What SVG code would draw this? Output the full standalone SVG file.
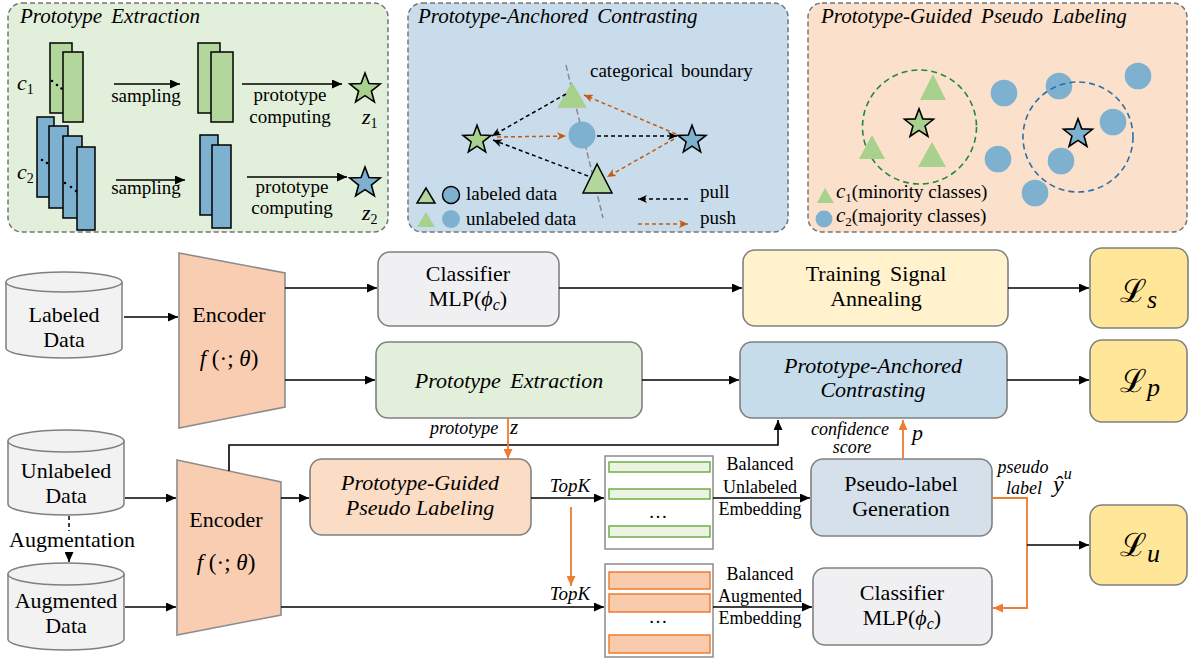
<svg xmlns="http://www.w3.org/2000/svg" width="1192" height="660" viewBox="0 0 1192 660">
<defs>
<style>
.panel{stroke:#767676;stroke-width:1.5;stroke-dasharray:5 3}
.box{stroke:#808080;stroke-width:1.6}
.ln{fill:none;stroke:#000;stroke-width:1.6}
.or{fill:none;stroke:#ed7d31;stroke-width:1.8}
.gr{fill:#b3d69d;stroke:#000;stroke-width:1.5}
.bl{fill:#7eb1cf;stroke:#000;stroke-width:1.5}
.gu{fill:#a9d18e}
.bu{fill:#7eb1cf}
.pull{fill:none;stroke:#000;stroke-width:1.5;stroke-dasharray:4 3}
.push{fill:none;stroke:#c55a11;stroke-width:1.5;stroke-dasharray:4 3}
.cyl{fill:#f2f2f2;stroke:#7f7f7f;stroke-width:1.5}
</style>
<marker id="ah" viewBox="0 0 10 9" refX="10" refY="4.5" markerWidth="10" markerHeight="9" markerUnits="userSpaceOnUse" orient="auto"><path d="M0,0L10,4.5L0,9z" fill="#000"/></marker>
<marker id="ao" viewBox="0 0 10 9" refX="10" refY="4.5" markerWidth="10" markerHeight="9" markerUnits="userSpaceOnUse" orient="auto"><path d="M0,0L10,4.5L0,9z" fill="#ed7d31"/></marker>
<marker id="vk" viewBox="0 0 9 8" refX="9" refY="4" markerWidth="9" markerHeight="8" markerUnits="userSpaceOnUse" orient="auto"><path d="M0,0L9,4L0,8L2.5,4z" fill="#000"/></marker>
<marker id="vo" viewBox="0 0 9 8" refX="9" refY="4" markerWidth="9" markerHeight="8" markerUnits="userSpaceOnUse" orient="auto"><path d="M0,0L9,4L0,8L2.5,4z" fill="#c55a11"/></marker>
<path id="star" d="M0,-16L3.94,-5.42L15.22,-4.94L6.37,2.07L9.4,12.94L0,6.7L-9.4,12.94L-6.37,2.07L-15.22,-4.94L-3.94,-5.42Z"/>
</defs>

<rect width="1192" height="660" fill="#fff"/>

<!-- Panel 1: Prototype Extraction -->
<g id="panel-prototype-extraction">
<rect class="panel" x="8" y="3" width="380" height="229" rx="14" fill="#e2efda"/>
<text font-family="Liberation Serif, serif" font-size="21" font-style="italic" word-spacing="4" x="20" y="23">Prototype Extraction</text>
<rect class="gr" x="50" y="43" width="22" height="70"/>
<rect class="gr" x="63" y="52" width="20" height="70"/>
<circle cx="52" cy="81" r="1.3"/><circle cx="57" cy="85" r="1.3"/><circle cx="61.5" cy="88.5" r="1.3"/>
<rect class="bl" x="37" y="117" width="17" height="80"/>
<rect class="bl" x="49" y="126" width="19" height="82"/>
<rect class="bl" x="63" y="136" width="19" height="82"/>
<rect class="bl" x="77" y="147" width="18" height="83"/>
<circle cx="42" cy="160" r="1.3"/><circle cx="47" cy="163" r="1.3"/>
<circle cx="65" cy="183" r="1.3"/><circle cx="71" cy="187" r="1.3"/><circle cx="76" cy="191" r="1.3"/>
<text font-family="Liberation Serif, serif" font-size="22" font-style="italic" x="17" y="90">c<tspan font-size="14" font-style="normal" dy="4">1</tspan></text>
<text font-family="Liberation Serif, serif" font-size="22" font-style="italic" x="17" y="179">c<tspan font-size="14" font-style="normal" dy="4">2</tspan></text>
<line class="ln" x1="114" y1="84" x2="180" y2="84" marker-end="url(#ah)"/>
<text font-family="Liberation Serif, serif" font-size="19" text-anchor="middle" x="146" y="102">sampling</text>
<rect class="gr" x="198" y="43" width="22" height="70"/>
<rect class="gr" x="211" y="52" width="22" height="70"/>
<line class="ln" x1="242" y1="84" x2="342" y2="84" marker-end="url(#ah)"/>
<text font-family="Liberation Serif, serif" font-size="19" text-anchor="middle" x="290" y="101">prototype</text>
<text font-family="Liberation Serif, serif" font-size="19" text-anchor="middle" x="290" y="123">computing</text>
<use href="#star" transform="translate(365,89)" fill="#a9d18e" stroke="#000" stroke-width="1.6"/>
<text font-family="Liberation Serif, serif" font-size="22" font-style="italic" x="362" y="124">z<tspan font-size="14" font-style="normal" dy="4">1</tspan></text>
<line class="ln" x1="116" y1="180" x2="185" y2="180" marker-end="url(#ah)"/>
<text font-family="Liberation Serif, serif" font-size="19" text-anchor="middle" x="146" y="194">sampling</text>
<rect class="bl" x="200" y="135" width="18" height="80"/>
<rect class="bl" x="212" y="145" width="19" height="83"/>
<line class="ln" x1="247" y1="177" x2="347" y2="177" marker-end="url(#ah)"/>
<text font-family="Liberation Serif, serif" font-size="19" text-anchor="middle" x="292" y="193">prototype</text>
<text font-family="Liberation Serif, serif" font-size="19" text-anchor="middle" x="292" y="214">computing</text>
<use href="#star" transform="translate(365,183)" fill="#7eb1cf" stroke="#000" stroke-width="1.6"/>
<text font-family="Liberation Serif, serif" font-size="22" font-style="italic" x="362" y="220">z<tspan font-size="14" font-style="normal" dy="4">2</tspan></text>
</g>

<!-- Panel 2: Prototype-Anchored Contrasting -->
<g id="panel-prototype-anchored-contrasting">
<rect class="panel" x="408" y="3" width="380" height="229" rx="14" fill="#c9dceb"/>
<text font-family="Liberation Serif, serif" font-size="21" font-style="italic" word-spacing="4" x="418" y="23">Prototype-Anchored Contrasting</text>
<line x1="566" y1="65" x2="603" y2="218" stroke="#8a8a8a" stroke-width="1.5" stroke-dasharray="6 3"/>
<text font-family="Liberation Serif, serif" font-size="19" word-spacing="3" x="590" y="77">categorical boundary</text>
<polygon class="gu" points="572,82 557,108 587,108"/>
<circle class="bu" cx="582" cy="135" r="13.5"/>
<polygon class="gr" points="597,164 583,193 612,193"/>
<use href="#star" transform="translate(477,140) scale(0.92)" fill="#a9d18e" stroke="#000" stroke-width="1.7"/>
<use href="#star" transform="translate(692,140) scale(0.92)" fill="#7eb1cf" stroke="#000" stroke-width="1.7"/>
<line class="pull" x1="566" y1="94" x2="492" y2="136" marker-end="url(#vk)"/>
<line class="pull" x1="588" y1="176" x2="493" y2="140" marker-end="url(#vk)"/>
<line class="pull" x1="597" y1="136" x2="677" y2="136" marker-end="url(#vk)"/>
<line class="push" x1="497" y1="137" x2="566" y2="136" marker-end="url(#vo)"/>
<line class="push" x1="676" y1="134" x2="584" y2="95" marker-end="url(#vo)"/>
<line class="push" x1="674" y1="139" x2="607" y2="177" marker-end="url(#vo)"/>
<polygon class="gr" points="426,188 417,203 435,203"/>
<circle class="bl" cx="451" cy="195" r="8.5"/>
<polygon class="gu" points="426,212 417,227 435,227"/>
<circle class="bu" cx="451" cy="219" r="9"/>
<text font-family="Liberation Serif, serif" font-size="19" x="466" y="200">labeled data</text>
<text font-family="Liberation Serif, serif" font-size="19" x="466" y="225">unlabeled data</text>
<line class="pull" x1="688" y1="199" x2="638" y2="199" marker-end="url(#vk)"/>
<line class="push" x1="638" y1="224" x2="688" y2="224" marker-end="url(#vo)"/>
<text font-family="Liberation Serif, serif" font-size="19" x="700" y="198">pull</text>
<text font-family="Liberation Serif, serif" font-size="19" x="700" y="224">push</text>
</g>

<!-- Panel 3: Prototype-Guided Pseudo Labeling -->
<g id="panel-prototype-guided-pseudo-labeling">
<rect class="panel" x="808" y="3" width="379" height="229" rx="14" fill="#fbe1cb"/>
<text font-family="Liberation Serif, serif" font-size="21" font-style="italic" word-spacing="4" x="821" y="23">Prototype-Guided Pseudo Labeling</text>
<circle cx="919.5" cy="127" r="57" fill="none" stroke="#1e8a3c" stroke-width="1.6" stroke-dasharray="6 4"/>
<polygon class="gu" points="933,74 920,100 946,100"/>
<polygon class="gu" points="872,135 859,159 885,159"/>
<polygon class="gu" points="932,142 918,167 946,167"/>
<use href="#star" transform="translate(919,124) scale(0.95)" fill="#a9d18e" stroke="#000" stroke-width="1.7"/>
<circle class="bu" cx="1004" cy="93" r="13.3"/>
<circle class="bu" cx="1059" cy="86" r="13.3"/>
<circle class="bu" cx="1138" cy="76" r="13.3"/>
<circle class="bu" cx="1113" cy="122" r="13.3"/>
<circle class="bu" cx="998" cy="159" r="13.3"/>
<circle class="bu" cx="1061" cy="161" r="13.3"/>
<circle class="bu" cx="1035" cy="193" r="13.3"/>
<circle cx="1078" cy="137" r="55" fill="none" stroke="#2f6fa8" stroke-width="1.6" stroke-dasharray="6 4"/>
<use href="#star" transform="translate(1078,134) scale(0.95)" fill="#7eb1cf" stroke="#000" stroke-width="1.7"/>
<polygon class="gu" points="825,188 817,203 834,203"/>
<circle class="bu" cx="824" cy="219" r="8.5"/>
<text font-family="Liberation Serif, serif" font-size="19" x="836" y="198"><tspan font-style="italic" font-size="21">c</tspan><tspan font-size="13" dy="4">1</tspan><tspan dy="-4">(minority classes)</tspan></text>
<text font-family="Liberation Serif, serif" font-size="19" x="836" y="222"><tspan font-style="italic" font-size="21">c</tspan><tspan font-size="13" dy="4">2</tspan><tspan dy="-4">(majority classes)</tspan></text>
</g>

<!-- Data nodes -->
<g id="labeled-data">
<path class="cyl" d="M6,282V348A58,10 0 0 0 122,348V282"/>
<ellipse class="cyl" cx="64" cy="282" rx="58" ry="10"/>
<text font-family="Liberation Serif, serif" font-size="22" text-anchor="middle" x="64" y="322">Labeled</text>
<text font-family="Liberation Serif, serif" font-size="22" text-anchor="middle" x="64" y="347">Data</text>
</g>
<g id="unlabeled-data">
<path class="cyl" d="M8,441V504A58,11 0 0 0 124,504V441"/>
<ellipse class="cyl" cx="66" cy="441" rx="58" ry="11"/>
<text font-family="Liberation Serif, serif" font-size="22" text-anchor="middle" x="66" y="478">Unlabeled</text>
<text font-family="Liberation Serif, serif" font-size="22" text-anchor="middle" x="66" y="503">Data</text>
</g>
<g id="augmented-data">
<path class="cyl" d="M8,574V639A58,11 0 0 0 124,639V574"/>
<ellipse class="cyl" cx="66" cy="574" rx="58" ry="11"/>
<text font-family="Liberation Serif, serif" font-size="22" text-anchor="middle" x="66" y="608">Augmented</text>
<text font-family="Liberation Serif, serif" font-size="22" text-anchor="middle" x="66" y="633">Data</text>
</g>

<!-- Encoders -->
<g id="encoder-1">
<polygon points="179,253 285,273 285,407 179,428" fill="#f9cdb1" stroke="#8c8c8c" stroke-width="1.6"/>
<text font-family="Liberation Serif, serif" font-size="22" text-anchor="middle" x="229" y="322">Encoder</text>
<text font-family="Liberation Serif, serif" font-size="23" text-anchor="middle" x="229" y="366"><tspan font-style="italic">f</tspan> (·; <tspan font-style="italic">θ</tspan>)</text>
</g>
<g id="encoder-2">
<polygon points="177,460 281,482 281,615 177,635" fill="#f9cdb1" stroke="#8c8c8c" stroke-width="1.6"/>
<text font-family="Liberation Serif, serif" font-size="22" text-anchor="middle" x="226" y="527">Encoder</text>
<text font-family="Liberation Serif, serif" font-size="23" text-anchor="middle" x="226" y="570"><tspan font-style="italic">f</tspan> (·; <tspan font-style="italic">θ</tspan>)</text>
</g>

<!-- Process boxes -->
<g id="classifier-top">
<rect class="box" x="378" y="252" width="181" height="74" rx="12" fill="#f0f0f2"/>
<text font-family="Liberation Serif, serif" font-size="22" text-anchor="middle" x="468" y="281">Classifier</text>
<text font-family="Liberation Serif, serif" font-size="22" text-anchor="middle" x="468" y="306">MLP(<tspan font-style="italic">ϕ</tspan><tspan font-style="italic" font-size="16" dy="4">c</tspan><tspan dy="-4">)</tspan></text>
</g>
<g id="prototype-extraction">
<rect class="box" x="376" y="342" width="266" height="76" rx="12" fill="#e2efda"/>
<text font-family="Liberation Serif, serif" font-size="22" font-style="italic" text-anchor="middle" word-spacing="4" x="509" y="388">Prototype Extraction</text>
</g>
<g id="training-signal-annealing">
<rect class="box" x="743" y="250" width="265" height="76" rx="12" fill="#fff2cc"/>
<text font-family="Liberation Serif, serif" font-size="22" text-anchor="middle" word-spacing="4" x="876" y="281">Training Signal</text>
<text font-family="Liberation Serif, serif" font-size="22" text-anchor="middle" x="876" y="306">Annealing</text>
</g>
<g id="prototype-anchored-contrasting">
<rect class="box" x="740" y="342" width="267" height="76" rx="12" fill="#c7dcea"/>
<text font-family="Liberation Serif, serif" font-size="22" font-style="italic" text-anchor="middle" x="873" y="373">Prototype-Anchored</text>
<text font-family="Liberation Serif, serif" font-size="22" font-style="italic" text-anchor="middle" x="873" y="397">Contrasting</text>
</g>
<g id="prototype-guided-pseudo-labeling">
<rect class="box" x="310" y="459" width="221" height="76" rx="12" fill="#fbdcc4"/>
<text font-family="Liberation Serif, serif" font-size="22" font-style="italic" text-anchor="middle" x="420" y="490">Prototype-Guided</text>
<text font-family="Liberation Serif, serif" font-size="22" font-style="italic" text-anchor="middle" x="420" y="515">Pseudo Labeling</text>
</g>
<g id="balanced-unlabeled-embedding">
<rect x="605" y="456" width="108" height="93" fill="#fff" stroke="#8c8c8c" stroke-width="1.5"/>
<rect x="609" y="462" width="101" height="10" fill="#ebf3e3" stroke="#70ad47" stroke-width="1.5"/>
<rect x="609" y="489" width="101" height="10" fill="#ebf3e3" stroke="#70ad47" stroke-width="1.5"/>
<rect x="609" y="526" width="101" height="11" fill="#ebf3e3" stroke="#70ad47" stroke-width="1.5"/>
<text font-family="Liberation Serif, serif" font-size="19" text-anchor="middle" x="658" y="518">…</text>
</g>
<g id="balanced-augmented-embedding">
<rect x="605" y="564" width="108" height="93" fill="#fff" stroke="#8c8c8c" stroke-width="1.5"/>
<rect x="609" y="572" width="101" height="17" fill="#f8cbad" stroke="#ed7d31" stroke-width="1.5"/>
<rect x="609" y="594" width="101" height="18" fill="#f8cbad" stroke="#ed7d31" stroke-width="1.5"/>
<rect x="609" y="635" width="101" height="18" fill="#f8cbad" stroke="#ed7d31" stroke-width="1.5"/>
<text font-family="Liberation Serif, serif" font-size="19" text-anchor="middle" x="658" y="623">…</text>
</g>
<g id="pseudo-label-generation">
<rect class="box" x="811" y="459" width="181" height="77" rx="12" fill="#d5e0ea"/>
<text font-family="Liberation Serif, serif" font-size="22" text-anchor="middle" x="901" y="491">Pseudo-label</text>
<text font-family="Liberation Serif, serif" font-size="22" text-anchor="middle" x="901" y="516">Generation</text>
</g>
<g id="classifier-bottom">
<rect class="box" x="813" y="568" width="179" height="77" rx="12" fill="#f0f0f2"/>
<text font-family="Liberation Serif, serif" font-size="22" text-anchor="middle" x="902" y="600">Classifier</text>
<text font-family="Liberation Serif, serif" font-size="22" text-anchor="middle" x="902" y="625">MLP(<tspan font-style="italic">ϕ</tspan><tspan font-style="italic" font-size="16" dy="4">c</tspan><tspan dy="-4">)</tspan></text>
</g>
<g id="loss-s">
<rect class="box" x="1090" y="248" width="98" height="80" rx="12" fill="#ffe699"/>
<text font-family="DejaVu Serif, serif" font-size="32" x="1120" y="302">ℒ<tspan font-family="Liberation Serif, serif" font-style="italic" font-size="26" dy="6">s</tspan></text>
</g>
<g id="loss-p">
<rect class="box" x="1090" y="340" width="97" height="82" rx="12" fill="#ffe699"/>
<text font-family="DejaVu Serif, serif" font-size="32" x="1120" y="392">ℒ<tspan font-family="Liberation Serif, serif" font-style="italic" font-size="26" dy="4">p</tspan></text>
</g>
<g id="loss-u">
<rect class="box" x="1090" y="505" width="97" height="80" rx="12" fill="#ffe699"/>
<text font-family="DejaVu Serif, serif" font-size="32" x="1120" y="556">ℒ<tspan font-family="Liberation Serif, serif" font-style="italic" font-size="26" dy="6">u</tspan></text>
</g>

<!-- Connectors -->
<g id="connectors">
<line class="ln" x1="124" y1="317" x2="178" y2="317" marker-end="url(#ah)"/>
<line class="ln" x1="285" y1="288" x2="377" y2="288" marker-end="url(#ah)"/>
<line class="ln" x1="285" y1="380" x2="375" y2="380" marker-end="url(#ah)"/>
<line class="ln" x1="559" y1="288" x2="742" y2="288" marker-end="url(#ah)"/>
<line class="ln" x1="642" y1="380" x2="739" y2="380" marker-end="url(#ah)"/>
<line class="ln" x1="1008" y1="288" x2="1089" y2="288" marker-end="url(#ah)"/>
<line class="ln" x1="1007" y1="380" x2="1089" y2="380" marker-end="url(#ah)"/>
<line class="ln" x1="125" y1="498" x2="176" y2="498" marker-end="url(#ah)"/>
<line class="ln" x1="125" y1="607" x2="176" y2="607" marker-end="url(#ah)"/>
<line x1="69" y1="516" x2="69" y2="531" stroke="#000" stroke-width="1.5" stroke-dasharray="4 3"/>
<line x1="69" y1="552" x2="69" y2="562" stroke="#000" stroke-width="1.5" marker-end="url(#ah)"/>
<polyline class="ln" points="229,471 229,445 778,445 778,420" marker-end="url(#ah)"/>
<line class="ln" x1="281" y1="498" x2="309" y2="498" marker-end="url(#ah)"/>
<line class="ln" x1="281" y1="607" x2="604" y2="607" marker-end="url(#ah)"/>
<line class="ln" x1="531" y1="498" x2="604" y2="498" marker-end="url(#ah)"/>
<line class="ln" x1="713" y1="498" x2="810" y2="498" marker-end="url(#ah)"/>
<line class="ln" x1="713" y1="607" x2="812" y2="607" marker-end="url(#ah)"/>
<line class="or" x1="508" y1="418" x2="508" y2="459" marker-end="url(#ao)"/>
<line class="or" x1="571" y1="507" x2="571" y2="586" marker-end="url(#ao)"/>
<line class="or" x1="903" y1="458" x2="903" y2="420" marker-end="url(#ao)"/>
<polyline class="or" points="992,498 1027,498 1027,608 993,608" marker-end="url(#ao)"/>
<line class="ln" x1="1027" y1="545" x2="1089" y2="545" marker-end="url(#ah)"/>
</g>

<!-- Connector labels -->
<g id="labels">
<text font-family="Liberation Serif, serif" font-size="22" text-anchor="middle" x="72" y="547">Augmentation</text>
<text font-family="Liberation Serif, serif" font-size="18" font-style="italic" x="430" y="434">prototype</text>
<text font-family="Liberation Serif, serif" font-size="21" font-style="italic" x="510" y="434">z</text>
<text font-family="Liberation Serif, serif" font-size="19" font-style="italic" text-anchor="middle" x="570" y="492">TopK</text>
<text font-family="Liberation Serif, serif" font-size="19" font-style="italic" text-anchor="middle" x="570" y="600">TopK</text>
<text font-family="Liberation Serif, serif" font-size="18" text-anchor="middle" x="760" y="470">Balanced</text>
<text font-family="Liberation Serif, serif" font-size="18" text-anchor="middle" x="760" y="493">Unlabeled</text>
<text font-family="Liberation Serif, serif" font-size="18" text-anchor="middle" x="760" y="515">Embedding</text>
<text font-family="Liberation Serif, serif" font-size="18" text-anchor="middle" x="760" y="580">Balanced</text>
<text font-family="Liberation Serif, serif" font-size="18" text-anchor="middle" x="760" y="602">Augmented</text>
<text font-family="Liberation Serif, serif" font-size="18" text-anchor="middle" x="760" y="624">Embedding</text>
<text font-family="Liberation Serif, serif" font-size="18" font-style="italic" text-anchor="middle" x="850" y="435">confidence</text>
<text font-family="Liberation Serif, serif" font-size="18" font-style="italic" text-anchor="middle" x="852" y="453">score</text>
<text font-family="Liberation Serif, serif" font-size="22" font-style="italic" x="912" y="440">p</text>
<text font-family="Liberation Serif, serif" font-size="18" font-style="italic" text-anchor="middle" x="1023" y="473">pseudo</text>
<text font-family="Liberation Serif, serif" font-size="18" font-style="italic" text-anchor="middle" x="1024" y="494">label</text>
<text font-family="Liberation Serif, serif" font-size="24" font-style="italic" x="1053" y="492">ŷ<tspan font-size="16" dy="-13">u</tspan></text>
</g>
</svg>
